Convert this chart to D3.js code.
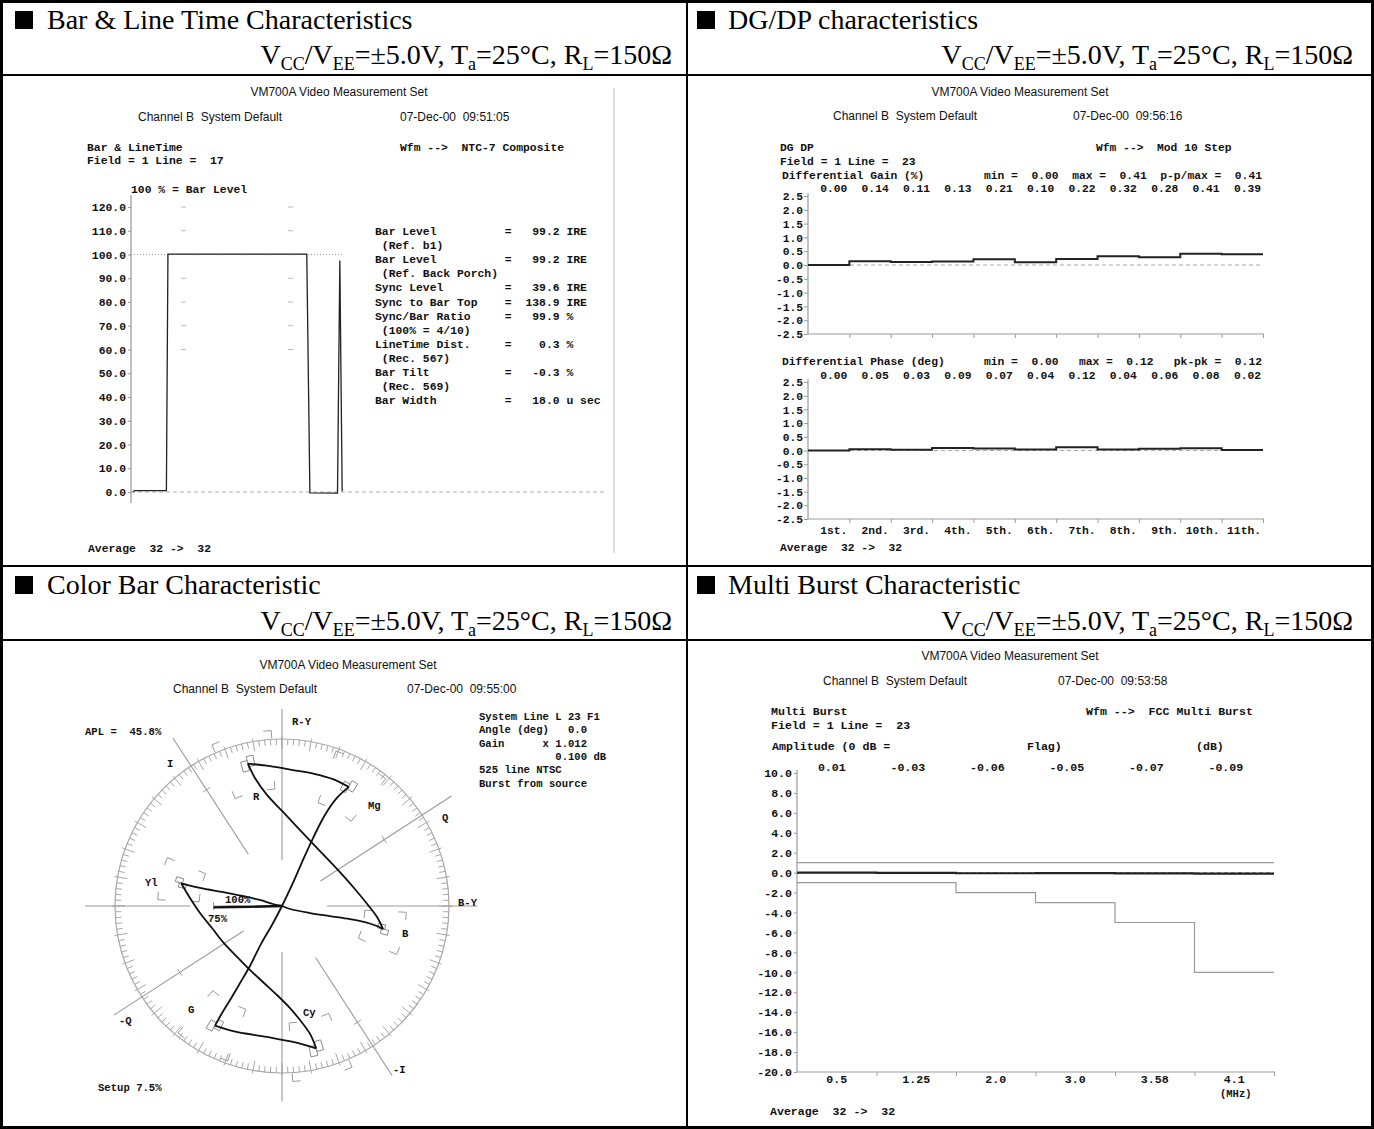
<!DOCTYPE html>
<html><head><meta charset="utf-8">
<script src="https://cdn.jsdelivr.net/npm/d3@7"></script>
<style>
body{margin:0;background:#fff}
svg text{white-space:pre}
.mono{font-family:"Liberation Mono","DejaVu Sans Mono",monospace;font-weight:bold;fill:#111}
.sans{font-family:"Liberation Sans",Arial,sans-serif;fill:#111}
.serif{font-family:"Liberation Serif","Times New Roman",serif;fill:#000}
</style></head><body>
<svg id="c" width="1374" height="1129"></svg>
<script>
// ---------- Bar & Line Time ----------
const barTicks = [120, 110, 100, 90, 80, 70, 60, 50, 40, 30, 20, 10, 0];
const barGratLevels = [120, 110, 90, 80, 70, 60];
const barGratTimes = [6.75, 20.5];
const barWaveTime = [0.25, 0.45, 4.55, 4.75, 22.6, 23.0, 26.55, 26.85, 27.15];
const barWaveIRE  = [0.0, 0.6, 0.6, 100.2, 100.2, -0.4, -0.5, 97.5, 0.3];
const barReadings = [
  "Bar Level          =   99.2 IRE",
  " (Ref. b1)",
  "Bar Level          =   99.2 IRE",
  " (Ref. Back Porch)",
  "Sync Level         =   39.6 IRE",
  "Sync to Bar Top    =  138.9 IRE",
  "Sync/Bar Ratio     =   99.9 %",
  " (100% = 4/10)",
  "LineTime Dist.     =    0.3 %",
  " (Rec. 567)",
  "Bar Tilt           =   -0.3 %",
  " (Rec. 569)",
  "Bar Width          =   18.0 u sec"
];

// ---------- DG / DP ----------
const stepNames = ["1st.", "2nd.", "3rd.", "4th.", "5th.", "6th.", "7th.", "8th.", "9th.", "10th.", "11th."];
const dgValues = [0.00, 0.14, 0.11, 0.13, 0.21, 0.10, 0.22, 0.32, 0.28, 0.41, 0.39];
const dpValues = [0.00, 0.05, 0.03, 0.09, 0.07, 0.04, 0.12, 0.04, 0.06, 0.08, 0.02];
const dgTicks = [2.5, 2.0, 1.5, 1.0, 0.5, 0.0, -0.5, -1.0, -1.5, -2.0, -2.5];

// ---------- Multi Burst ----------
const mbFreqs = ["0.5", "1.25", "2.0", "3.0", "3.58", "4.1"];
const mbValues = [0.01, -0.03, -0.06, -0.05, -0.07, -0.09];
const mbUpper = [1, 1, 1, 1, 1, 1];
const mbLower = [-1, -1, -2, -3, -5, -10];
const mbTicks = [10, 8, 6, 4, 2, 0, -2, -4, -6, -8, -10, -12, -14, -16, -18, -20];

// ---------- Vectorscope ----------
const vecNames = ["Yl", "Cy", "G", "Mg", "R", "B"];
const vecPhase = [167.1, 283.5, 240.7, 60.8, 103.5, 347.1];
const vecAmp   = [62.1, 87.7, 81.9, 81.9, 87.7, 62.1];
const burstTrace = [[0, 0], [-20, -0.5], [-41, -0.8]];
const whiteToYl = [[0,0],[-5.4,1.2],[-13.2,3.6],[-32.9,7.8],[-49.1,10.8],[-60.4,13.6]];
const ylToCy = [[-60.4,13.6],[-55.1,4.8],[-49.1,-4.2],[-41.9,-13.2],[-35.3,-21.6],[-26.9,-30.5],[-19.2,-38.3],[-10.8,-46.1],[-3.0,-53.3],[4.8,-61.1],[10.8,-68.3],[16.8,-76.6],[20.4,-85.2]];
const cyToG = [[20.4,-85.2],[6.6,-81.4],[-9.0,-78.4],[-29.3,-74.9],[-40.1,-71.6]];
const gToMg = [[-40.1,-71.6],[-35.9,-64.1],[-31.1,-56.3],[-25.1,-46.1],[-19.2,-35.9],[-12.6,-22.8],[-6.0,-11.4],[0,0],[6.0,12.6],[12.0,26.3],[18.6,40.7],[25.7,54.5],[32.9,64.7],[40.0,71.3]];
const mgToR = [[40.0,71.3],[30.5,76.0],[19.8,79.0],[6.6,81.4],[-7.2,83.8],[-20.4,85.2]];
const rToB = [[-20.4,85.2],[-16.2,76.6],[-9.0,66.5],[0.6,56.3],[10.8,45.5],[21.6,34.1],[32.9,22.2],[43.1,10.8],[51.5,0.6],[56.9,-6.6],[60.5,-13.8]];
const bToBlack = [[60.5,-13.8],[56.9,-12.0],[49.7,-9.6],[40.7,-7.8],[28.7,-6.0],[16.8,-4.2],[4.8,-1.8],[0,0]];

const svg = d3.select("#c");
const GRAY = "#9c9c9c";

function txt(x, y, s, cls, size, anchor) {
  return svg.append("text").attr("class", cls).attr("x", x).attr("y", y)
    .attr("font-size", size).attr("text-anchor", anchor || "start").text(s);
}
function line(x1, y1, x2, y2, col, w, dash) {
  const l = svg.append("line").attr("x1", x1).attr("y1", y1).attr("x2", x2).attr("y2", y2)
    .attr("stroke", col).attr("stroke-width", w || 1);
  if (dash) l.attr("stroke-dasharray", dash);
  return l;
}

// ---------- frame ----------
svg.append("rect").attr("x", 1.5).attr("y", 1.5).attr("width", 1371).attr("height", 1126)
  .attr("fill", "none").attr("stroke", "#000").attr("stroke-width", 3);
line(687, 0, 687, 1129, "#000", 2);
line(0, 75, 1374, 75, "#000", 2);
line(0, 566, 1374, 566, "#000", 2);
line(0, 640, 1374, 640, "#000", 2);

function header(sqX, titleX, titleY, subEnd, subY, title) {
  svg.append("rect").attr("x", sqX).attr("y", titleY - 18).attr("width", 18).attr("height", 18).attr("fill", "#000");
  txt(titleX, titleY, title, "serif", 28);
  const t = svg.append("text").attr("class", "serif").attr("x", subEnd).attr("y", subY)
    .attr("font-size", 28).attr("text-anchor", "end");
  const parts = [["V",0],["CC",1],["/V",0],["EE",1],["=±5.0V, T",0],["a",1],["=25°C, R",0],["L",1],["=150Ω",0]];
  let prev = 0;
  parts.forEach(([s, sub]) => {
    t.append("tspan").attr("font-size", sub ? 18 : 28).attr("dy", (sub - prev) * 6).text(s);
    prev = sub;
  });
}
header(15, 47, 29, 672, 64, "Bar & Line Time Characteristics");
header(697, 728, 29, 1353, 64, "DG/DP characteristics");
header(15, 47, 594, 672, 630, "Color Bar Characteristic");
header(697, 728, 594, 1353, 630, "Multi Burst Characteristic");

// =============== Bar & Line Time panel ===============
txt(339, 96, "VM700A Video Measurement Set", "sans", 12, "middle");
txt(138, 121, "Channel B  System Default", "sans", 12);
txt(400, 121, "07-Dec-00  09:51:05", "sans", 12);
txt(87, 151, "Bar & LineTime", "mono", 11.4);
txt(87, 164, "Field = 1 Line =  17", "mono", 11.4);
txt(400, 151, "Wfm -->  NTC-7 Composite", "mono", 11.4);
txt(131, 193, "100 % = Bar Level", "mono", 11.4);
barReadings.forEach((s, i) => txt(375, 235 + i * 14.1, s, "mono", 11.4));
txt(88, 552, "Average  32 ->  32", "mono", 11.4);
line(614, 88, 614, 553, "#d4d4d4", 1.5);

const xT = d3.scaleLinear().domain([0, 61.2]).range([131, 607]);
const yT = d3.scaleLinear().domain([0, 120]).range([492, 207]);
line(131, yT(125), 131, yT(-4.6), GRAY, 1.3);
const axT = svg.append("g").attr("transform", "translate(131,0)")
  .call(d3.axisLeft(yT).tickValues(barTicks).tickFormat(d3.format(".1f")).tickSize(3).tickPadding(2));
axT.select(".domain").remove();
axT.selectAll("line").attr("stroke", GRAY);
axT.selectAll("text").attr("class", "mono").attr("font-size", 11.4).attr("fill", "#111");
barGratTimes.forEach(tm => barGratLevels.forEach(lv =>
  line(xT(tm) - 2.5, yT(lv), xT(tm) + 2.5, yT(lv), "#b8b8b8", 1)));
line(xT(0), yT(100), xT(27.4), yT(100), "#999", 1, "1,2");
line(xT(0), yT(0), xT(61.2), yT(0), "#aaa", 1, "4,3");
svg.append("path")
  .datum(barWaveTime.map((t, i) => [t, barWaveIRE[i]]))
  .attr("d", d3.line().x(d => xT(d[0])).y(d => yT(d[1])))
  .attr("fill", "none").attr("stroke", "#222").attr("stroke-width", 1.3);

// =============== DG / DP panel ===============
txt(1020, 96, "VM700A Video Measurement Set", "sans", 12, "middle");
txt(833, 120, "Channel B  System Default", "sans", 12);
txt(1073, 120, "07-Dec-00  09:56:16", "sans", 12);
txt(780, 151, "DG DP", "mono", 11.3);
txt(780, 165, "Field = 1 Line =  23", "mono", 11.3);
txt(1096, 151, "Wfm -->  Mod 10 Step", "mono", 11.3);
txt(782, 179, "Differential Gain (%)", "mono", 11.3);
txt(984, 179, "min =  0.00  max =  0.41  p-p/max =  0.41", "mono", 11.3);
txt(782, 365, "Differential Phase (deg)", "mono", 11.3);
txt(984, 365, "min =  0.00   max =  0.12   pk-pk =  0.12", "mono", 11.3);
txt(780, 551, "Average  32 ->  32", "mono", 11.3);

const xD = d3.scaleLinear().domain([0, 11]).range([808, 1263]);
function stepPlot(values, y, valueBase, showNames) {
  line(808, y(2.6), 808, y(-2.5), GRAY, 1.2);
  line(808, y(-2.5), 1264, y(-2.5), GRAY, 1.2);
  const ax = svg.append("g").attr("transform", "translate(808,0)")
    .call(d3.axisLeft(y).tickValues(dgTicks).tickFormat(d3.format(".1f")).tickSize(4).tickPadding(1));
  ax.select(".domain").remove();
  ax.selectAll("line").attr("stroke", GRAY);
  ax.selectAll("text").attr("class", "mono").attr("font-size", 11.3).attr("fill", "#111").text(d => d3.format(".1f")(d).replace("−", "-"));
  const bx = svg.append("g").attr("transform", `translate(0,${y(-2.5)})`)
    .call(d3.axisBottom(xD).tickValues(d3.range(1, 12)).tickFormat("").tickSize(4));
  bx.select(".domain").remove();
  bx.selectAll("line").attr("stroke", GRAY);
  line(808, y(0), 1263, y(0), "#aaa", 1, "4,3");
  const pts = [];
  values.forEach((v, i) => { pts.push([i, v]); pts.push([i + 1, v]); });
  svg.append("path").datum(pts)
    .attr("d", d3.line().x(d => xD(d[0])).y(d => y(d[1])))
    .attr("fill", "none").attr("stroke", "#222").attr("stroke-width", 2);
  values.forEach((v, i) => txt(xD(i + 1) - 2, valueBase, d3.format(".2f")(v), "mono", 11.3, "end"));
  if (showNames) stepNames.forEach((s, i) => txt(xD(i + 1) - 2, 534, s, "mono", 11.3, "end"));
}
const yG = d3.scaleLinear().domain([-2.5, 2.5]).range([334, 196]);
const yP = d3.scaleLinear().domain([-2.5, 2.5]).range([519, 382]);
stepPlot(dgValues, yG, 192, false);
stepPlot(dpValues, yP, 379, true);

// =============== Multi Burst panel ===============
txt(1010, 660, "VM700A Video Measurement Set", "sans", 12, "middle");
txt(823, 685, "Channel B  System Default", "sans", 12);
txt(1058, 685, "07-Dec-00  09:53:58", "sans", 12);
txt(771, 715, "Multi Burst", "mono", 11.6);
txt(771, 729, "Field = 1 Line =  23", "mono", 11.6);
txt(1086, 715, "Wfm -->  FCC Multi Burst", "mono", 11.6);
txt(772, 750, "Amplitude (0 dB =", "mono", 11.6);
txt(1027, 750, "Flag)", "mono", 11.6);
txt(1196, 750, "(dB)", "mono", 11.6);
txt(1220, 1097, "(MHz)", "mono", 10.5);
txt(770, 1115, "Average  32 ->  32", "mono", 11.6);

const xM = d3.scaleLinear().domain([0, 6]).range([797, 1274]);
const yM = d3.scaleLinear().domain([-20, 10]).range([1072, 773]);
line(797, yM(10.3), 797, yM(-20), GRAY, 1.2);
line(797, yM(-20), 1275, yM(-20), GRAY, 1.2);
const axM = svg.append("g").attr("transform", "translate(797,0)")
  .call(d3.axisLeft(yM).tickValues(mbTicks).tickFormat(d => d3.format(".1f")(d).replace("−", "-")).tickSize(3).tickPadding(2));
axM.select(".domain").remove();
axM.selectAll("line").attr("stroke", GRAY);
axM.selectAll("text").attr("class", "mono").attr("font-size", 11.6).attr("fill", "#111");
const bxM = svg.append("g").attr("transform", `translate(0,${yM(-20)})`)
  .call(d3.axisBottom(xM).tickValues(d3.range(1, 7)).tickFormat("").tickSize(4));
bxM.select(".domain").remove();
bxM.selectAll("line").attr("stroke", GRAY);
mbFreqs.forEach((f, i) => txt(xM(i + 0.5), 1083, f, "mono", 11.6, "middle"));
mbValues.forEach((v, i) => txt(xM(i + 0.5) + 9, 771, d3.format(".2f")(v).replace("−", "-"), "mono", 11.6, "end"));

function steps(vals) {
  const p = [];
  vals.forEach((v, i) => { p.push([i, v]); p.push([i + 1, v]); });
  return p;
}
const mbLine = d3.line().x(d => xM(d[0])).y(d => yM(d[1]));
svg.append("path").datum(steps(mbUpper)).attr("d", mbLine).attr("fill", "none").attr("stroke", "#9a9a9a").attr("stroke-width", 1.2);
svg.append("path").datum(steps(mbLower)).attr("d", mbLine).attr("fill", "none").attr("stroke", "#9a9a9a").attr("stroke-width", 1.2);
line(xM(0), yM(0), xM(6), yM(0), "#999", 1, "4,3");
svg.append("path").datum(steps(mbValues)).attr("d", mbLine).attr("fill", "none").attr("stroke", "#222").attr("stroke-width", 2.2);

// =============== Vectorscope panel ===============
txt(348, 669, "VM700A Video Measurement Set", "sans", 12, "middle");
txt(173, 693, "Channel B  System Default", "sans", 12);
txt(407, 693, "07-Dec-00  09:55:00", "sans", 12);

const cx = 282, cy = 906;
const rS = d3.scaleLinear().domain([0, 100]).range([0, 167]);
const rad = a => a * Math.PI / 180;
const P = (ang, amp) => [cx + rS(amp) * Math.cos(rad(ang)), cy - rS(amp) * Math.sin(rad(ang))];
const UV = (u, v) => [cx + rS(u), cy - rS(v)];
const g = svg.append("g");

// graticule circle and degree ticks
g.append("circle").attr("cx", cx).attr("cy", cy).attr("r", rS(100)).attr("fill", "none").attr("stroke", "#a8a8a8").attr("stroke-width", 1.2);
d3.range(0, 360, 2).forEach(a => {
  const major = a % 10 === 0;
  const r0 = rS(100) - (major ? 10 : 6), r1 = rS(100) + (major ? 3 : 0);
  const c = Math.cos(rad(a)), s = Math.sin(rad(a));
  g.append("line").attr("x1", cx + r0 * c).attr("y1", cy - r0 * s).attr("x2", cx + r1 * c).attr("y2", cy - r1 * s)
    .attr("stroke", "#a8a8a8").attr("stroke-width", 1);
});
// axes (R-Y, B-Y, I, Q) drawn as radial segments
const axisSegs = [[90, 27.5, 118], [270, 27.5, 117], [0, 27, 117], [180, 55, 118], [180, 0, 41],
                  [123, 37, 120], [303, 37, 121], [33, 27.5, 121], [213, 27.5, 120]];
axisSegs.forEach(([a, r0, r1]) => {
  const p0 = P(a, r0), p1 = P(a, r1);
  g.append("line").attr("x1", p0[0]).attr("y1", p0[1]).attr("x2", p1[0]).attr("y2", p1[1]).attr("stroke", "#9a9a9a").attr("stroke-width", 1.1);
});
// small cross ticks on I/Q axes and burst mark
[[123, 83], [303, 83], [33, 73], [213, 73], [180, 41]].forEach(([a, r]) => {
  const p = P(a, r), nx = -Math.sin(rad(a)) * 4, ny = -Math.cos(rad(a)) * 4;
  g.append("line").attr("x1", p[0] - nx).attr("y1", p[1] - ny).attr("x2", p[0] + nx).attr("y2", p[1] + ny)
    .attr("stroke", "#9a9a9a").attr("stroke-width", 1);
});

// colour targets: fine boxes and tolerance corners
vecNames.forEach((n, i) => {
  const ph = vecPhase[i], A = vecAmp[i];
  [[-2.6, 0], [0, 2.6]].forEach(([a0, a1], k) => {
    const d0 = k ? -1.2 : 1.2;
    const poly = [P(ph + a0, A * 0.965 + d0), P(ph + a1, A * 0.965 + d0), P(ph + a1, A * 1.035 + d0), P(ph + a0, A * 1.035 + d0)];
    g.append("polygon").attr("points", poly.map(p => p.join(",")).join(" "))
      .attr("fill", "none").attr("stroke", "#8a8a8a").attr("stroke-width", 1);
  });
  [-10, 10].forEach(da => [0.8, 1.2].forEach(f => {
    const rc = A * f, rpx = rS(rc);
    const arm = 8;
    const dAng = (-Math.sign(da)) * (arm / rpx) * 180 / Math.PI;
    const dR = (f < 1 ? 1 : -1) * arm / 1.67;
    const pts = [P(ph + da + dAng, rc), P(ph + da, rc), P(ph + da, rc + dR)];
    g.append("polyline").attr("points", pts.map(p => p.join(",")).join(" "))
      .attr("fill", "none").attr("stroke", "#9a9a9a").attr("stroke-width", 1);
  }));
});

// trace
const traceLine = d3.line().x(d => UV(d[0], d[1])[0]).y(d => UV(d[0], d[1])[1]).curve(d3.curveCatmullRom.alpha(0.5));
[whiteToYl, ylToCy, cyToG, gToMg, mgToR, rToB, bToBlack].forEach(seg =>
  g.append("path").datum(seg).attr("d", traceLine).attr("fill", "none").attr("stroke", "#111").attr("stroke-width", 1.8));
g.append("path").datum(burstTrace).attr("d", traceLine).attr("fill", "none").attr("stroke", "#111").attr("stroke-width", 2.4);

// labels
const vs = 10.6;
txt(85, 735, "APL =  45.8%", "mono", vs);
txt(292, 725, "R-Y", "mono", vs);
txt(167, 767, "I", "mono", vs);
txt(442, 821, "Q", "mono", vs);
txt(458, 906, "B-Y", "mono", vs);
txt(119, 1024, "-Q", "mono", vs);
txt(393, 1073, "-I", "mono", vs);
txt(225, 903, "100%", "mono", vs);
txt(208, 922, "75%", "mono", vs);
txt(98, 1091, "Setup 7.5%", "mono", vs);
txt(253, 800, "R", "mono", vs);
txt(368, 809, "Mg", "mono", vs);
txt(402, 937, "B", "mono", vs);
txt(303, 1016, "Cy", "mono", vs);
txt(188, 1013, "G", "mono", vs);
txt(145, 886, "Yl", "mono", vs);
const info = ["System Line L 23 F1", "Angle (deg)   0.0", "Gain      x 1.012", "            0.100 dB", "525 line NTSC", "Burst from source"];
info.forEach((s, i) => txt(479, 720 + i * 13.3, s, "mono", vs));
</script>
</body></html>
